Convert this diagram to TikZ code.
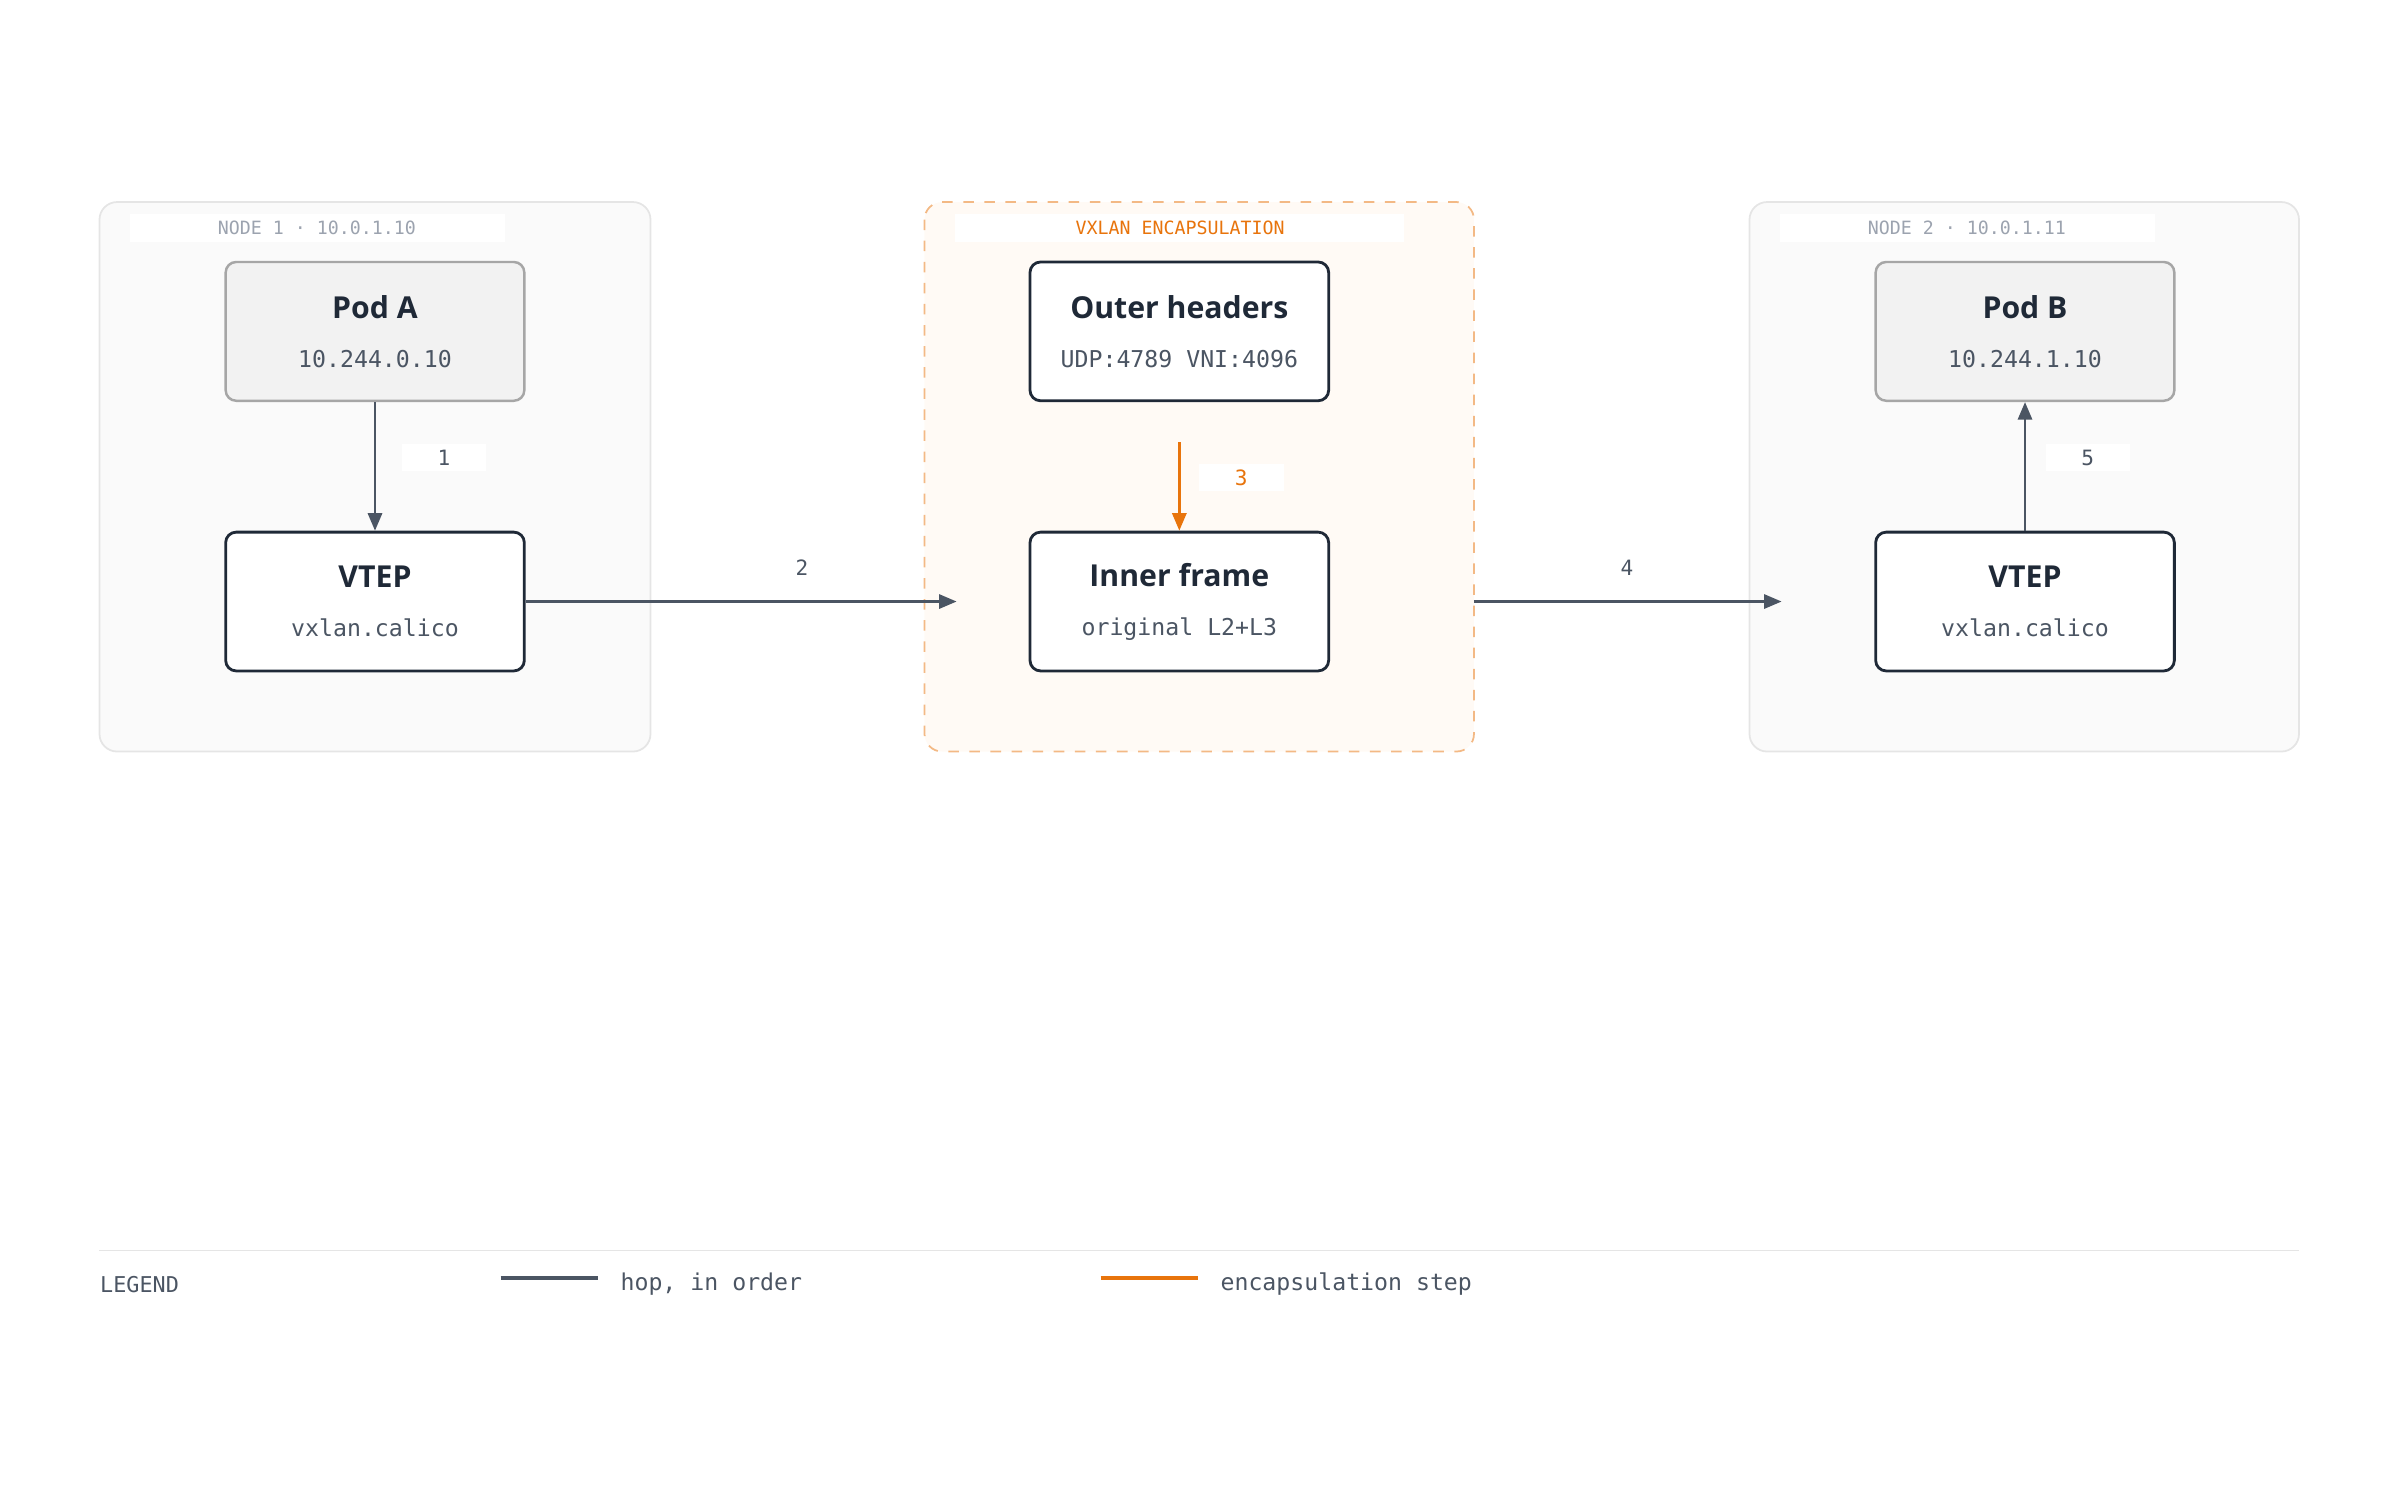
\documentclass[tikz,border=0pt]{standalone}
\usepackage{fontspec}
\setmainfont{Open Sans}
\setmonofont{DejaVu Sans Mono}
\usetikzlibrary{arrows.meta}
\definecolor{ink}{HTML}{1F2937}
\definecolor{hop}{HTML}{4B5563}
\definecolor{encap}{HTML}{E8740C}
\definecolor{grayline}{HTML}{E5E5E5}
\definecolor{mutetxt}{HTML}{9CA3AF}
\tikzset{
  host/.style={draw=grayline,fill=black!2,rounded corners=5pt,line width=0.5pt},
  encbox/.style={draw=encap!50,fill=orange!4,dashed,rounded corners=5pt,line width=0.5pt},
  band/.style={fill=white,inner sep=0,minimum height=7.8pt},
  pod/.style={draw=black!35,fill=black!5,rounded corners=3pt,line width=0.7pt,minimum width=85pt,minimum height=39.5pt,align=center},
  dev/.style={draw=ink,fill=white,rounded corners=3pt,line width=0.8pt,minimum width=85pt,minimum height=39.5pt,align=center},
  hoparrow/.style={draw=hop,line width=0.8pt,-{Triangle[length=5pt,width=4pt]}},
  encarrow/.style={draw=encap,line width=0.8pt,-{Triangle[length=5pt,width=4pt]}},
  num/.style={fill=white,font=\ttfamily\fontsize{6}{7}\selectfont,text=hop,minimum width=24pt,minimum height=7.8pt,inner sep=0},
  tag/.style={font=\ttfamily\fontsize{5.2}{6}\selectfont},
}
\newcommand{\boxtext}[2]{{\bfseries\fontsize{8.6}{10}\selectfont #1}\\[2pt]{\ttfamily\fontsize{6.6}{8}\selectfont\color{hop}#2}}
\begin{document}
\begin{tikzpicture}[x=0.4356pt,y=-0.4356pt,text=ink]
\useasboundingbox (0,0) rectangle (1568,981);
% containers
\draw[host] (65,132) rectangle (425,491);
\draw[encbox] (604,132) rectangle (963,491);
\draw[host] (1143,132) rectangle (1502,491);
\node[band,minimum width=106.7pt] (band1) at (207.5,149) {};
\node[tag,text=mutetxt] (tag1) at (207,149) {NODE 1 · 10.0.1.10};
\node[band,minimum width=127.6pt] (band2) at (770.5,149) {};
\node[tag,text=encap] (tag2) at (771,149) {VXLAN ENCAPSULATION};
\node[band,minimum width=106.7pt] (band3) at (1285.5,149) {};
\node[tag,text=mutetxt] (tag3) at (1285,149) {NODE 2 · 10.0.1.11};
% boxes
\node[pod] (poda) at (245,216.5) {\boxtext{Pod A}{10.244.0.10}};
\node[dev] (vtepa) at (245,393) {\boxtext{VTEP}{vxlan.calico}};
\node[dev] (outer) at (770.5,216.5) {\boxtext{Outer headers}{UDP:4789 VNI:4096}};
\node[dev] (inner) at (770.5,393) {\boxtext{Inner frame}{original L2+L3}};
\node[pod] (podb) at (1323,216.5) {\boxtext{Pod B}{10.244.1.10}};
\node[dev] (vtepb) at (1323,393) {\boxtext{VTEP}{vxlan.calico}};
\coordinate (encin) at (625,393);
\coordinate (encout) at (963,393);
\coordinate (hostb) at (1164,393);
\coordinate (encstart) at (770.5,289);
% connectors
\draw[hoparrow] (poda) -- (vtepa);
\node[num] (n1) at (290,299) {1};
\draw[hoparrow] (vtepa) -- (encin);
\node[num,fill=none] (n2) at (524,371) {2};
\draw[encarrow] (encstart) -- (inner);
\node[num,text=encap] (n3) at (811,312) {3};
\draw[hoparrow] (encout) -- (hostb);
\node[num,fill=none] (n4) at (1063,371) {4};
\draw[hoparrow] (vtepb) -- (podb);
\node[num] (n5) at (1364,299) {5};
% legend
\draw[grayline,line width=0.5pt] (65,817) -- (1502,817);
\node[anchor=west,inner sep=0,font=\ttfamily\fontsize{6.2}{7}\selectfont,text=hop] (leg) at (65,839) {LEGEND};
\coordinate (h1) at (327,835);
\coordinate (h2) at (391,835);
\draw[hop,line width=0.9pt] (h1) -- (h2);
\node[anchor=west,inner sep=0,font=\ttfamily\fontsize{6.6}{8}\selectfont,text=hop] (leghop) at (405,839) {hop, in order};
\coordinate (e1) at (719,835);
\coordinate (e2) at (783,835);
\draw[encap,line width=0.9pt] (e1) -- (e2);
\node[anchor=west,inner sep=0,font=\ttfamily\fontsize{6.6}{8}\selectfont,text=hop] (legenc) at (797,839) {encapsulation step};
\end{tikzpicture}
\end{document}
